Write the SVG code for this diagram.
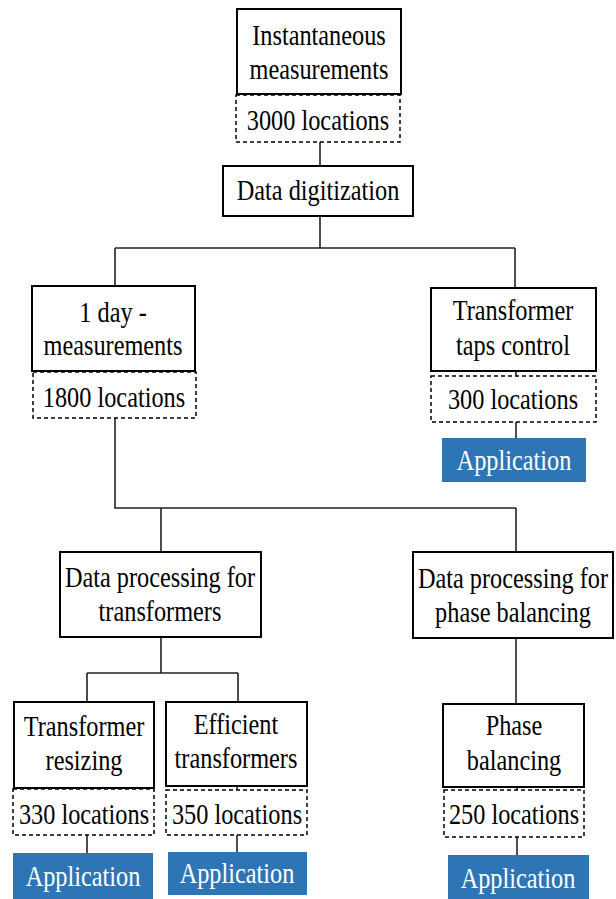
<svg xmlns="http://www.w3.org/2000/svg" width="616" height="899" viewBox="0 0 616 899">
<style>
.box{fill:#fff;stroke:#000;stroke-width:2}
.dash{fill:#fff;stroke:#000;stroke-width:1.5;stroke-dasharray:4 3}
.app{fill:#2E75B6;stroke:none}
.t{font-family:"Liberation Serif","Times New Roman",serif;font-size:24.3px;text-anchor:middle;fill:#000}
.w{fill:#fff}
.c{stroke:#222;stroke-width:1.6;fill:none}
</style>
<rect width="616" height="899" fill="#fff"/>
<g id="connectors">
<path class="c" d="M320 142V166M320 216V248M115 248H515M115 248V286M515 248V288M516 371V376M516 422V438M115 418V508H516M161 508V552M516 508V552M161 637V673M87 673H238M87 673V702M238 673V702M87 835V853M237 786V790M237 835V852M516 638V704M517 787V790M517 837V855"/>
</g>
<g id="instantaneous">
<rect class="box" x="237" y="9" width="164" height="85"/>
<text class="t" transform="translate(319 45) scale(1 1.2)">Instantaneous</text>
<text class="t" transform="translate(319 79) scale(1 1.2)">measurements</text>
</g>
<g id="loc3000">
<rect class="dash" x="236" y="95" width="164" height="47"/>
<text class="t" transform="translate(318 130) scale(1 1.2)">3000 locations</text>
</g>
<g id="digitization">
<rect class="box" x="223" y="166" width="190" height="50"/>
<text class="t" transform="translate(318 200) scale(1 1.2)">Data digitization</text>
</g>
<g id="oneday">
<rect class="box" x="32" y="286" width="163" height="85"/>
<text class="t" transform="translate(113 322) scale(1 1.2)">1 day -</text>
<text class="t" transform="translate(113 355) scale(1 1.2)">measurements</text>
</g>
<g id="loc1800">
<rect class="dash" x="33" y="372" width="163" height="46"/>
<text class="t" transform="translate(114 407) scale(1 1.2)">1800 locations</text>
</g>
<g id="taps">
<rect class="box" x="431" y="288" width="165" height="83"/>
<text class="t" transform="translate(513 320) scale(1 1.2)">Transformer</text>
<text class="t" transform="translate(513 355) scale(1 1.2)">taps control</text>
</g>
<g id="loc300">
<rect class="dash" x="431" y="376" width="165" height="46"/>
<text class="t" transform="translate(513 409) scale(1 1.2)">300 locations</text>
</g>
<g id="app1">
<rect class="app" x="442" y="438" width="144" height="44"/>
<text class="t w" transform="translate(514 470) scale(1 1.2)">Application</text>
</g>
<g id="dpt">
<rect class="box" x="60" y="552" width="201" height="85"/>
<text class="t" transform="translate(160 587) scale(1 1.2)">Data processing for</text>
<text class="t" transform="translate(160 621) scale(1 1.2)">transformers</text>
</g>
<g id="dpp">
<rect class="box" x="413" y="552" width="200" height="86"/>
<text class="t" transform="translate(513 588) scale(1 1.2)">Data processing for</text>
<text class="t" transform="translate(513 622) scale(1 1.2)">phase balancing</text>
</g>
<g id="resizing">
<rect class="box" x="14" y="702" width="140" height="86"/>
<text class="t" transform="translate(84 736) scale(1 1.2)">Transformer</text>
<text class="t" transform="translate(84 770) scale(1 1.2)">resizing</text>
</g>
<g id="loc330">
<rect class="dash" x="13" y="789" width="141" height="46"/>
<text class="t" transform="translate(84 824) scale(1 1.2)">330 locations</text>
</g>
<g id="app2">
<rect class="app" x="13" y="853" width="140" height="46"/>
<text class="t w" transform="translate(83 886) scale(1 1.2)">Application</text>
</g>
<g id="efficient">
<rect class="box" x="166" y="702" width="141" height="84"/>
<text class="t" transform="translate(236 734) scale(1 1.2)">Efficient</text>
<text class="t" transform="translate(236 768) scale(1 1.2)">transformers</text>
</g>
<g id="loc350">
<rect class="dash" x="166" y="790" width="141" height="45"/>
<text class="t" transform="translate(237 824) scale(1 1.2)">350 locations</text>
</g>
<g id="app3">
<rect class="app" x="168" y="852" width="139" height="43"/>
<text class="t w" transform="translate(237 883) scale(1 1.2)">Application</text>
</g>
<g id="phase">
<rect class="box" x="443" y="704" width="141" height="83"/>
<text class="t" transform="translate(514 735) scale(1 1.2)">Phase</text>
<text class="t" transform="translate(514 770) scale(1 1.2)">balancing</text>
</g>
<g id="loc250">
<rect class="dash" x="444" y="790" width="140" height="47"/>
<text class="t" transform="translate(514 824) scale(1 1.2)">250 locations</text>
</g>
<g id="app4">
<rect class="app" x="448" y="855" width="141" height="44"/>
<text class="t w" transform="translate(518 888) scale(1 1.2)">Application</text>
</g>
</svg>
